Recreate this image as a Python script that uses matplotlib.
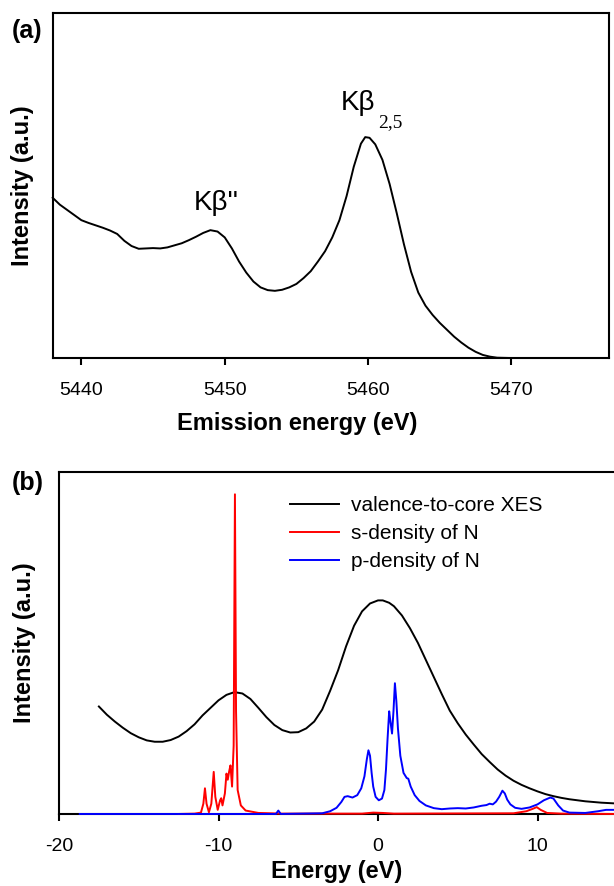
import matplotlib.pyplot as plt

plt.rcParams["font.family"] = ["Liberation Sans", "DejaVu Sans"]
plt.rcParams["axes.unicode_minus"] = False

# --- (a) experimental Kβ emission spectrum ---
exp_energy = [5438.0, 5438.5, 5439.0, 5439.5, 5440.0, 5440.5, 5441.0, 5441.5, 5442.0, 5442.5,
              5443.0, 5443.5, 5444.0, 5444.5, 5445.0, 5445.5, 5446.0, 5446.5, 5447.0, 5447.5,
              5448.0, 5448.5, 5449.0, 5449.5, 5450.0, 5450.5, 5451.0, 5451.5, 5452.0, 5452.5,
              5453.0, 5453.5, 5454.0, 5454.5, 5455.0, 5455.5, 5456.0, 5456.5, 5457.0, 5457.5,
              5458.0, 5458.5, 5459.0, 5459.5, 5459.8, 5460.1, 5460.5, 5461.0, 5461.5, 5462.0,
              5462.5, 5463.0, 5463.5, 5464.0, 5464.5, 5465.0, 5465.5, 5466.0, 5466.5, 5467.0,
              5467.5, 5468.0, 5468.5, 5469.0, 5470.0, 5476.8]
exp_intensity = [0.465, 0.445, 0.430, 0.415, 0.400, 0.392, 0.385, 0.378, 0.370, 0.360,
                 0.340, 0.325, 0.317, 0.318, 0.319, 0.318, 0.321, 0.327, 0.333, 0.342,
                 0.352, 0.363, 0.371, 0.367, 0.350, 0.318, 0.280, 0.248, 0.222, 0.205,
                 0.197, 0.195, 0.198, 0.205, 0.215, 0.232, 0.252, 0.280, 0.310, 0.350,
                 0.400, 0.470, 0.555, 0.622, 0.641, 0.639, 0.620, 0.575, 0.505, 0.420,
                 0.330, 0.250, 0.190, 0.152, 0.125, 0.102, 0.082, 0.062, 0.045, 0.030,
                 0.018, 0.009, 0.004, 0.001, 0.0, 0.0]

# --- (b) calculated valence-to-core spectrum and N partial DOS ---
vtc_energy = [-17.5, -17.0, -16.5, -16.0, -15.5, -15.0, -14.5, -14.0, -13.5, -13.0, -12.5,
              -12.0, -11.5, -11.0, -10.5, -10.0, -9.5, -9.0, -8.5, -8.0, -7.5, -7.0, -6.5,
              -6.0, -5.5, -5.0, -4.5, -4.0, -3.5, -3.0, -2.5, -2.0, -1.5, -1.0, -0.5, 0.0,
              0.3, 0.7, 1.0, 1.5, 2.0, 2.5, 3.0, 3.5, 4.0, 4.5, 5.0, 5.5, 6.0, 6.5, 7.0,
              7.5, 8.0, 8.5, 9.0, 9.5, 10.0, 10.5, 11.0, 11.5, 12.0, 13.0, 14.0, 14.8]
vtc_intensity = [0.314, 0.290, 0.270, 0.252, 0.236, 0.224, 0.215, 0.211, 0.211, 0.216, 0.226,
                 0.242, 0.262, 0.288, 0.310, 0.332, 0.348, 0.356, 0.352, 0.336, 0.310, 0.283,
                 0.260, 0.245, 0.238, 0.239, 0.250, 0.270, 0.305, 0.360, 0.420, 0.490, 0.550,
                 0.592, 0.615, 0.624, 0.624, 0.617, 0.607, 0.580, 0.543, 0.500, 0.450, 0.400,
                 0.350, 0.302, 0.265, 0.232, 0.203, 0.175, 0.152, 0.130, 0.112, 0.097, 0.085,
                 0.075, 0.066, 0.058, 0.052, 0.047, 0.043, 0.037, 0.033, 0.031]

s_energy = [-12.5, -11.5, -11.1, -10.95, -10.85, -10.75, -10.6, -10.45, -10.3, -10.2, -10.05,
            -9.9, -9.83, -9.75, -9.6, -9.5, -9.42, -9.33, -9.25, -9.15, -9.05, -8.97, -8.9,
            -8.8, -8.6, -8.3, -7.5, -6.0, -1.0, -0.3, 0.3, 1.0, 8.5, 9.3, 9.7, 9.95, 10.2,
            10.6, 11.5, 14.8]
s_intensity = [0.0, 0.001, 0.004, 0.030, 0.075, 0.030, 0.005, 0.030, 0.123, 0.050, 0.012,
               0.040, 0.046, 0.025, 0.060, 0.118, 0.100, 0.125, 0.142, 0.080, 0.200, 0.934, 0.300,
               0.070, 0.025, 0.010, 0.003, 0.001, 0.001, 0.004, 0.003, 0.001, 0.002, 0.008,
               0.015, 0.020, 0.012, 0.003, 0.001, 0.0]

p_energy = [-18.7, -6.4, -6.25, -6.1, -3.5, -3.0, -2.6, -2.3, -2.1, -1.9, -1.6, -1.3, -1.05,
            -0.85, -0.7, -0.6, -0.5, -0.4, -0.3, -0.15, 0.05, 0.25, 0.4, 0.5, 0.6, 0.7, 0.78,
            0.88, 0.97, 1.06, 1.15, 1.25, 1.4, 1.6, 1.8, 1.9, 2.05, 2.3, 2.6, 3.0, 3.5, 4.0,
            4.5, 5.0, 5.5, 6.0, 6.5, 6.8, 7.0, 7.2, 7.4, 7.6, 7.8, 7.95, 8.1, 8.3, 8.6, 9.0,
            9.5, 10.0, 10.4, 10.8, 11.0, 11.3, 11.6, 12.0, 13.0, 13.8, 14.3, 14.8]
p_intensity = [0.0, 0.0, 0.010, 0.0, 0.002, 0.008, 0.018, 0.035, 0.050, 0.052, 0.048, 0.055,
               0.075, 0.110, 0.160, 0.186, 0.170, 0.120, 0.080, 0.050, 0.040, 0.045, 0.070,
               0.130, 0.220, 0.300, 0.270, 0.235, 0.300, 0.382, 0.330, 0.250, 0.170, 0.120,
               0.105, 0.103, 0.080, 0.055, 0.038, 0.025, 0.017, 0.014, 0.016, 0.017, 0.016,
               0.019, 0.024, 0.026, 0.030, 0.028, 0.036, 0.050, 0.068, 0.060, 0.042, 0.028,
               0.018, 0.015, 0.019, 0.028, 0.040, 0.048, 0.045, 0.025, 0.010, 0.004, 0.003,
               0.008, 0.012, 0.012]

fig = plt.figure(figsize=(6.14, 8.86), dpi=100)

# --- panel (a) ---
ax1 = fig.add_axes([0.0858, 0.5959, 0.906, 0.389])
ax1.plot(exp_energy, exp_intensity, color="black", linewidth=1.4, zorder=3, clip_on=False)
ax1.set_xlim(5438, 5476.8)
ax1.set_ylim(0, 1)
ax1.set_yticks([])
ax1.set_xticks([5440, 5450, 5460, 5470])
ax1.tick_params(axis="x", direction="out", length=5, width=1.5, pad=12, labelsize=14)
ax1.set_xlabel("Emission energy (eV)", fontsize=17, fontweight="bold")
ax1.xaxis.set_label_coords(0.439, -0.1886)
ax1.xaxis.label.set_verticalalignment("center")
ax1.set_ylabel("Intensity (a.u.)", fontsize=17, fontweight="bold")
ax1.yaxis.set_label_coords(-0.055, 0.5)
ax1.yaxis.label.set_verticalalignment("center")
for sp in ax1.spines.values():
    sp.set_linewidth(1.5)
ax1.text(5447.86, 0.429, "Kβ''", fontsize=20, ha="left", va="baseline")
ax1.text(5458.07, 0.72, "Kβ", fontsize=20, ha="left", va="baseline")
ax1.text(5460.7, 0.67, "2,5", fontsize=14, ha="left", va="baseline",
         family="Liberation Serif")
fig.text(12 / 614, 1 - 31 / 886, "(a)", fontsize=18, fontweight="bold", ha="left", va="center")

# --- panel (b) ---
ax2 = fig.add_axes([0.0961, 0.0813, 0.904, 0.3863])
ax2.plot(vtc_energy, vtc_intensity, color="black", linewidth=1.4, zorder=3,
         clip_on=False, label="valence-to-core XES")
ax2.plot(s_energy, s_intensity, color="red", linewidth=1.4, zorder=3,
         clip_on=False, label="s-density of N")
ax2.plot(p_energy, p_intensity, color="blue", linewidth=1.4, zorder=3,
         clip_on=False, label="p-density of N")
ax2.set_xlim(-20, 14.8)
ax2.set_ylim(0, 1)
ax2.set_yticks([])
ax2.set_xticks([-20, -10, 0, 10])
ax2.tick_params(axis="x", direction="out", length=5, width=1.5, pad=12, labelsize=14)
ax2.set_xlabel("Energy (eV)", fontsize=17, fontweight="bold")
ax2.xaxis.set_label_coords(0.5, -0.167)
ax2.xaxis.label.set_verticalalignment("center")
ax2.set_ylabel("Intensity (a.u.)", fontsize=17, fontweight="bold")
ax2.yaxis.set_label_coords(-0.062, 0.5)
ax2.yaxis.label.set_verticalalignment("center")
for sp in ax2.spines.values():
    sp.set_linewidth(1.5)
ax2.spines["right"].set_visible(False)
ax2.legend(loc="upper left", bbox_to_anchor=(280 / 614, 1 - 486 / 886),
           bbox_transform=fig.transFigure, frameon=False, fontsize=15, borderpad=0,
           handlelength=2.35, handletextpad=0.55, labelspacing=0.42)
fig.text(12 / 614, 1 - 483 / 886, "(b)", fontsize=18, fontweight="bold", ha="left", va="center")

fig.savefig("out.png", dpi=100)
